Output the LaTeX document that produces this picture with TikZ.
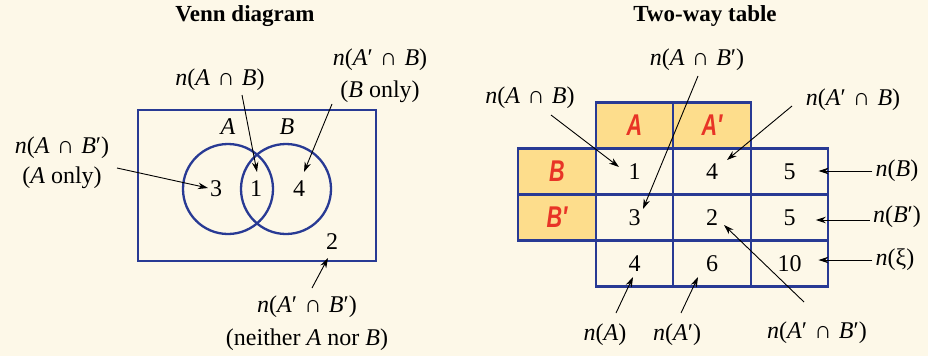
\documentclass[tikz,border=0pt]{standalone}
\usepackage{fontspec}
\setmainfont{Liberation Serif}
\setsansfont{Liberation Sans}
\usetikzlibrary{arrows.meta}
\definecolor{bgcream}{RGB}{253,248,232}
\definecolor{vennblue}{RGB}{40,58,148}
\definecolor{headfill}{RGB}{253,221,140}
\definecolor{headred}{RGB}{232,52,38}
\tikzset{
    bline/.style={draw=vennblue, line width=2.3pt},
    arr/.style={-{Stealth[length=10pt,width=6.5pt]}, line width=0.9pt},
    lbl/.style={font=\fontsize{24}{28}\selectfont, inner sep=1pt},
    ttl/.style={font=\fontsize{23}{27}\selectfont\bfseries},
    cell/.style={bline, lbl, minimum width=77.5pt, minimum height=46pt, inner sep=0pt},
    headcell/.style={cell, fill=headfill, text=headred, font=\fontsize{30}{32}\sffamily\bfseries\itshape},
}
\newcommand{\narrow}[1]{\scalebox{0.72}[1]{#1}}
\newcommand{\iv}[1]{\textit{#1}}
\newcommand{\capsp}{\hspace{0.3em}∩\hspace{0.3em}}
\begin{document}
\begin{tikzpicture}[x=1pt,y=-1pt]
    \fill[bgcream] (0,0) rectangle (928,356);
    % Venn diagram
    \node[ttl] (vtitle) at (245,16) {Venn diagram};
    \node[bline, minimum width=238pt, minimum height=151pt, inner sep=0pt] (univ) at (257,185.5) {};
    \node[bline, circle, minimum size=90pt, inner sep=0pt] (setA) at (228,189) {};
    \node[bline, circle, minimum size=90pt, inner sep=0pt] (setB) at (286,189) {};
    \node[lbl] (nameA) at (228,127) {\iv{A}};
    \node[lbl] (nameB) at (287,127) {\iv{B}};
    \node[lbl] (v3) at (216,189) {3};
    \node[lbl] (v1) at (256,189) {1};
    \node[lbl] (v4) at (299,189) {4};
    \node[lbl] (v2) at (332,242) {2};
    \node[lbl] (vAB) at (220,80) {\iv{n}(\iv{A}\capsp\iv{B})};
    \node[lbl] (vAnB) at (380,60) {\iv{n}(\iv{A}′\capsp\iv{B})};
    \node[lbl] (vBonly) at (380,92) {(\iv{B} only)};
    \node[lbl] (vABn) at (62,148) {\iv{n}(\iv{A}\capsp\iv{B}′)};
    \node[lbl] (vAonly) at (62,178) {(\iv{A} only)};
    \node[lbl] (vAnBn) at (307,307) {\iv{n}(\iv{A}′\capsp\iv{B}′)};
    \node[lbl] (vneither) at (307,340) {(neither \iv{A} nor \iv{B})};
    % Venn arrows
    \coordinate (vt1) at (242,95);  \coordinate (vh1) at (257,172);
    \coordinate (vt2) at (332,104); \coordinate (vh2) at (304,172);
    \coordinate (vt3) at (117,168); \coordinate (vh3) at (208,188);
    \coordinate (vt4) at (312,288); \coordinate (vh4) at (328,258);
    \draw[arr] (vt1) -- (vh1);
    \draw[arr] (vt2) -- (vh2);
    \draw[arr] (vt3) -- (vh3);
    \draw[arr] (vt4) -- (vh4);
    % Two-way table
    \node[ttl] (ttitle) at (705,16) {Two-way table};
    \node[headcell] (hA) at (634.5,125.5) {\narrow{A}};
    \node[headcell] (hAn) at (712,125.5) {\narrow{A′}};
    \node[headcell] (hB) at (557,171.5) {\narrow{B}};
    \node[headcell] (hBn) at (557,217.5) {\narrow{B′}};
    \node[cell] (c11) at (634.5,171.5) {1};
    \node[cell] (c12) at (712,171.5) {4};
    \node[cell] (c13) at (789.5,171.5) {5};
    \node[cell] (c21) at (634.5,217.5) {3};
    \node[cell] (c22) at (712,217.5) {2};
    \node[cell] (c23) at (789.5,217.5) {5};
    \node[cell] (c31) at (634.5,263.5) {4};
    \node[cell] (c32) at (712,263.5) {6};
    \node[cell] (c33) at (789.5,263.5) {10};
    \node[lbl] (tAB) at (530,98) {\iv{n}(\iv{A}\capsp\iv{B})};
    \node[lbl] (tABn) at (697,60) {\iv{n}(\iv{A}\capsp\iv{B}′)};
    \node[lbl] (tAnB) at (853,100) {\iv{n}(\iv{A}′\capsp\iv{B})};
    \node[lbl] (tB) at (897,171) {\iv{n}(\iv{B})};
    \node[lbl] (tBn) at (897,217) {\iv{n}(\iv{B}′)};
    \node[lbl] (txi) at (895,260) {\iv{n}(ξ)};
    \node[lbl] (tAnBn) at (817,333) {\iv{n}(\iv{A}′\capsp\iv{B}′)};
    \node[lbl] (tA) at (605,335) {\iv{n}(\iv{A})};
    \node[lbl] (tAn) at (677,335) {\iv{n}(\iv{A}′)};
    % Table arrows
    \coordinate (tt1) at (551,115); \coordinate (th1) at (619,167);
    \coordinate (tt2) at (698,76);  \coordinate (th2) at (643,209);
    \coordinate (tt3) at (792,106); \coordinate (th3) at (727,160);
    \coordinate (tt4) at (804,302); \coordinate (th4) at (724,225);
    \coordinate (tt5) at (616,313); \coordinate (th5) at (633,277);
    \coordinate (tt6) at (681,313); \coordinate (th6) at (698,277);
    \draw[arr] (tt1) -- (th1);
    \draw[arr] (tt2) -- (th2);
    \draw[arr] (tt3) -- (th3);
    \draw[arr] (tt4) -- (th4);
    \draw[arr] (tt5) -- (th5);
    \draw[arr] (tt6) -- (th6);
    \draw[arr] (tB.west) ++(-2,0) -- ++(-54,0);
    \draw[arr] (tBn.west) ++(-2,3) -- ++(-54,0);
    \draw[arr] (txi.west) ++(-2,0) -- ++(-54,0);
\end{tikzpicture}
\end{document}
